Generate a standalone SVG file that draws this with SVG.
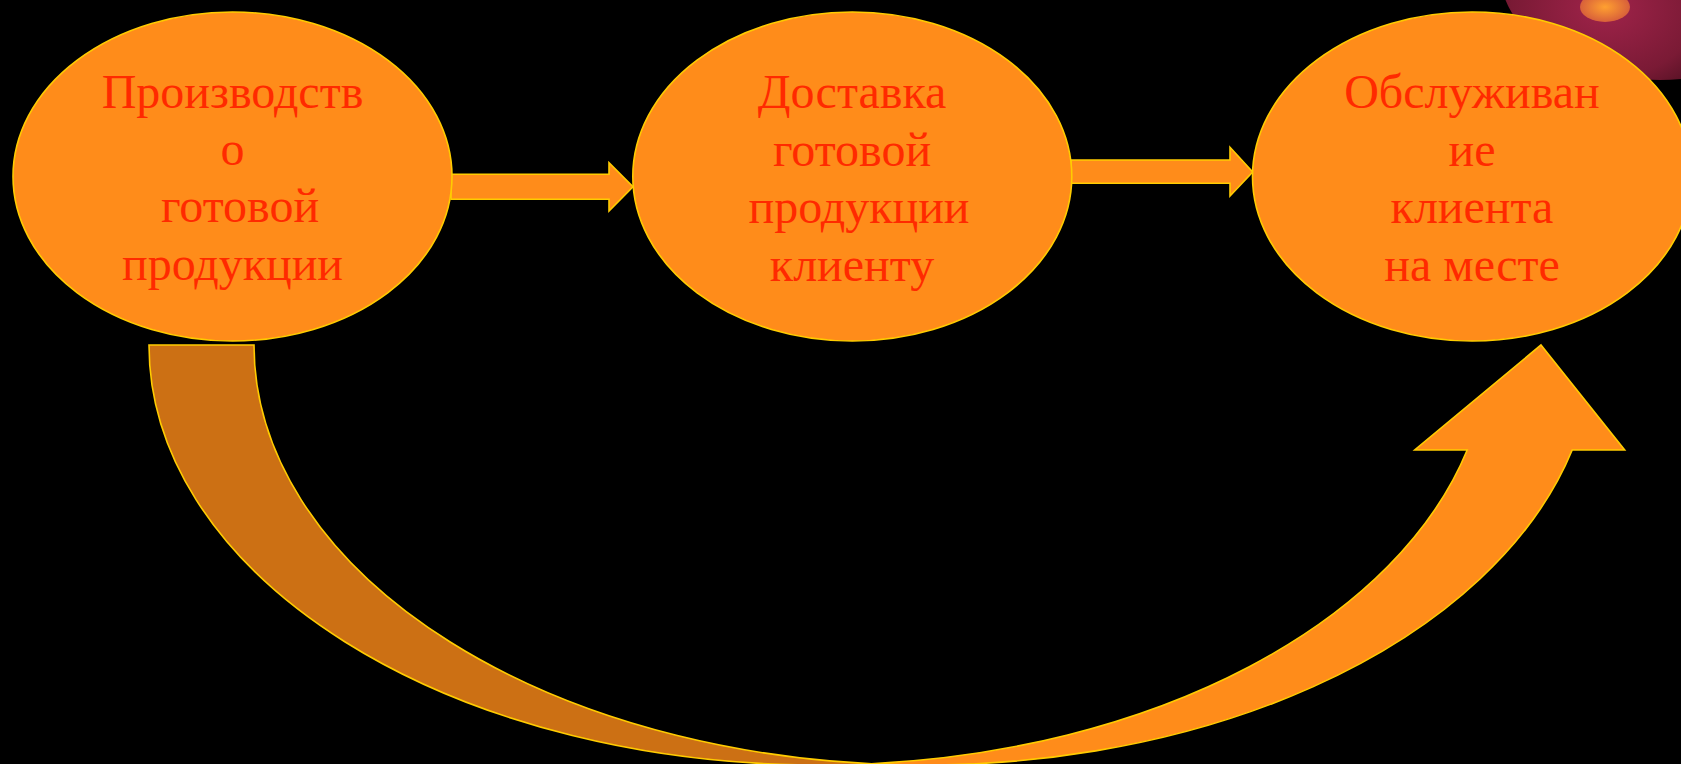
<svg xmlns="http://www.w3.org/2000/svg" width="1681" height="764" viewBox="0 0 1681 764">
<defs>
<radialGradient id="sphere" cx="1605" cy="8" r="170" gradientUnits="userSpaceOnUse" gradientTransform="translate(1605 8) scale(1 0.75) translate(-1605 -8)">
<stop offset="0" stop-color="#a0234a"/>
<stop offset="0.55" stop-color="#7a1a35"/>
<stop offset="1" stop-color="#2a0710"/>
</radialGradient>
<radialGradient id="glow" cx="0.5" cy="0.5" r="0.5">
<stop offset="0" stop-color="#ffa030"/>
<stop offset="1" stop-color="#d8603a"/>
</radialGradient>
<style>
.node{fill:#ff8c1a;stroke:#ffcc00;stroke-width:1.6}
.lbl{font-family:"Liberation Serif","Times New Roman",serif;font-size:48px;fill:#ff2a00;text-anchor:middle}
.arr{fill:#ff8c1a;stroke:#ffcc00;stroke-width:1.6;stroke-linejoin:miter}
.arrdark{fill:#cc7014;stroke:#ffcc00;stroke-width:1.6}
</style>
</defs>
<rect x="0" y="0" width="1681" height="764" fill="#000000"/>
<ellipse cx="1660" cy="-28" rx="160" ry="108" fill="url(#sphere)"/>
<ellipse cx="1605" cy="7" rx="25" ry="15" fill="url(#glow)"/>
<g id="connectors">
<path id="arrow-1-2" class="arr" d="M451,174.3 L609,174.3 L609,162.7 L633,186.8 L609,211 L609,199.3 L451,199.3 Z"/>
<path id="arrow-2-3" class="arr" d="M1071,160 L1230,160 L1230,147.3 L1252.7,172 L1230,196 L1230,183.3 L1071,183.3 Z"/>
<g id="arrow-1-3">
<path class="arr" d="M1541,345 L1624.7,450 L1572.2,450 A669.75,420 0 0 1 871.25,763.7 A669.75,420 0 0 0 1467.2,450 L1414.7,450 Z"/>
<path class="arrdark" d="M818.75,765 A669.75,420 0 0 1 149,345 L254,345 A669.75,420 0 0 0 923.75,765 Z"/>
</g>
</g>
<g id="node-production">
<ellipse class="node" cx="232.5" cy="176.5" rx="219.5" ry="164.5"/>
<text class="lbl" x="232.5" y="108">Производств</text>
<text class="lbl" x="232.5" y="165">о</text>
<text class="lbl" x="240" y="222">готовой</text>
<text class="lbl" x="232.5" y="280">продукции</text>
</g>
<g id="node-delivery">
<ellipse class="node" cx="852.3" cy="176.5" rx="219.5" ry="164.5"/>
<text class="lbl" x="852" y="108">Доставка</text>
<text class="lbl" x="852" y="166">готовой</text>
<text class="lbl" x="859" y="223">продукции</text>
<text class="lbl" x="852" y="281">клиенту</text>
</g>
<g id="node-service">
<ellipse class="node" cx="1472" cy="176.5" rx="219.5" ry="164.5"/>
<text class="lbl" x="1472" y="108">Обслуживан</text>
<text class="lbl" x="1472" y="166">ие</text>
<text class="lbl" x="1472" y="223">клиента</text>
<text class="lbl" x="1472" y="281">на месте</text>
</g>
</svg>
